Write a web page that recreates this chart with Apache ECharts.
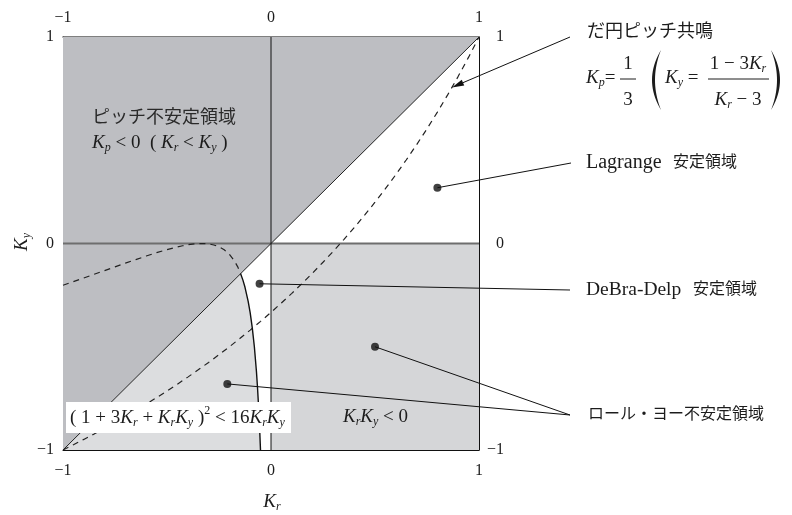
<!DOCTYPE html>
<html>
<head>
<meta charset="utf-8">
<script src="https://cdn.jsdelivr.net/npm/echarts@6/dist/echarts.min.js"></script>
<style>
  html, body { margin: 0; padding: 0; background: #fff; }
  #chart { width: 792px; height: 515px; }
</style>
</head>
<body>
<div id="chart"></div>
<script>
// ---- axis ticks ----
const tickValues = [-1, 0, 1];
const tickLabels = ['−1', '0', '1'];

// ---- elliptic pitch resonance, Kp = 1/3 : Ky = (1 - 3Kr) / (Kr - 3) ----
const resonanceCurve = [
  [-1, -1], [-0.95, -0.9747], [-0.9, -0.9487], [-0.85, -0.9221], [-0.8, -0.8947],
  [-0.75, -0.8667], [-0.7, -0.8378], [-0.65, -0.8082], [-0.6, -0.7778], [-0.55, -0.7465],
  [-0.5, -0.7143], [-0.45, -0.6812], [-0.4, -0.6471], [-0.35, -0.6119], [-0.3, -0.5758],
  [-0.25, -0.5385], [-0.2, -0.5], [-0.15, -0.4603], [-0.1, -0.4194], [-0.05, -0.377],
  [0, -0.3333], [0.05, -0.2881], [0.1, -0.2414], [0.15, -0.193], [0.2, -0.1429],
  [0.25, -0.0909], [0.3, -0.037], [0.35, 0.0189], [0.4, 0.0769], [0.45, 0.1373],
  [0.5, 0.2], [0.55, 0.2653], [0.6, 0.3333], [0.65, 0.4043], [0.7, 0.4783],
  [0.75, 0.5556], [0.8, 0.6364], [0.85, 0.7209], [0.9, 0.8095], [0.95, 0.9024], [1, 1]
];

// ---- boundary (1 + 3Kr + KrKy)^2 = 16KrKy ----
// part outside the DeBra-Delp region (dashed)
const boundaryDashed = [
  [-1, -0.202], [-0.95, -0.1845], [-0.9, -0.1669], [-0.85, -0.149], [-0.8, -0.1311],
  [-0.75, -0.1131], [-0.7, -0.0953], [-0.65, -0.0778], [-0.6, -0.0607], [-0.55, -0.0445],
  [-0.5, -0.0294], [-0.45, -0.0163], [-0.425, -0.0108], [-0.4, -0.0061], [-0.367, -0.0017],
  [-0.35, -0.0004], [-0.333, 0], [-0.315, -0.0006], [-0.3, -0.0021], [-0.275, -0.0071],
  [-0.25, -0.0161], [-0.225, -0.0306], [-0.2, -0.0527], [-0.175, -0.0858], [-0.16, -0.1131],
  [-0.146, -0.146]
];
// part bounding the DeBra-Delp region (solid)
const boundarySolid = [
  [-0.146, -0.146], [-0.135, -0.1774], [-0.125, -0.2122], [-0.11, -0.279], [-0.1, -0.3363],
  [-0.09, -0.4083], [-0.08, -0.5], [-0.07, -0.6201], [-0.065, -0.695], [-0.06, -0.7829],
  [-0.055, -0.8877], [-0.0505, -1]
];

// ---- straight reference lines ----
const zeroKyLine = [[-1, 0], [1, 0]];
const zeroKrLine = [[0, -1], [0, 1]];
const diagonalLine = [[-1, -1], [1, 1]];

// ---- shaded regions ----
const pitchUnstableRegion = [[-1, -1], [1, 1], [-1, 1]];
const rollYawQuadrant = [[0, -1], [1, -1], [1, 0], [0, 0]];
const rollYawLowerLeft = [[-1, -1]].concat(boundarySolid);

// ---- annotation target points ----
const resonancePoint = [0.87, 0.756];
const lagrangePoint = [0.8, 0.27];
const debraPoint = [-0.055, -0.195];
const rollYawPoints = [[0.5, -0.5], [-0.21, -0.68]];

// ---- layout ----
const leaderEnds = [[571, 163], [570, 290], [570, 415]];
const arrowStart = [570, 37];
const SERIF = '"Liberation Serif", "Times New Roman", serif';
const MIXED = '"Liberation Serif", "Noto Sans CJK JP", sans-serif';
const INK = '#1c1c1c';
const TOP_Z = 100;

const measureCtx = document.createElement('canvas').getContext('2d');
function fontOf(size, italic) {
  return (italic ? 'italic ' : '') + size + 'px ' + SERIF;
}
function runWidth(text, size, italic) {
  measureCtx.font = fontOf(size, italic);
  return measureCtx.measureText(text).width;
}
// Lays out a formula made of runs: n = upright, i = italic, s = italic subscript, S = superscript
function mathGroup(runs, x, y, base, align, rotation) {
  let cx = 0;
  const children = [];
  runs.forEach(([text, kind]) => {
    let size = base, italic = false, dy = 0;
    if (kind === 'i') italic = true;
    if (kind === 's') { size = Math.round(base * 0.62); italic = true; dy = base * 0.28; }
    if (kind === 'S') { size = Math.round(base * 0.62); dy = -base * 0.36; }
    children.push({
      type: 'text', x: cx, y: dy, z: TOP_Z,
      style: { text: text, font: fontOf(size, italic), fill: INK, align: 'left', verticalAlign: 'middle' }
    });
    cx += runWidth(text, size, italic);
  });
  const off = align === 'center' ? -cx / 2 : 0;
  children.forEach(c => { c.x += off; });
  return { type: 'group', x: x, y: y, rotation: rotation || 0, z: TOP_Z, children: children };
}
function plainText(text, x, y, size, fill) {
  return {
    type: 'text', x: x, y: y, z: TOP_Z,
    style: { text: text, font: size + 'px ' + MIXED, fill: fill || INK, align: 'left', verticalAlign: 'middle' }
  };
}
// Tall parenthesis drawn as a thin crescent
function parenShape(xTop, outerCtrl, innerCtrl, yTop, yBot) {
  const pts = [];
  const yMid = (yTop + yBot) / 2;
  for (let i = 0; i <= 20; i++) {
    const t = i / 20;
    pts.push([(1 - t) * (1 - t) * xTop + 2 * t * (1 - t) * outerCtrl + t * t * xTop,
              (1 - t) * (1 - t) * yTop + 2 * t * (1 - t) * yMid + t * t * yBot]);
  }
  for (let i = 20; i >= 0; i--) {
    const t = i / 20;
    pts.push([(1 - t) * (1 - t) * xTop + 2 * t * (1 - t) * innerCtrl + t * t * xTop,
              (1 - t) * (1 - t) * yTop + 2 * t * (1 - t) * yMid + t * t * yBot]);
  }
  return { type: 'polygon', z: TOP_Z, shape: { points: pts }, style: { fill: INK } };
}

function regionSeries(points, color) {
  return {
    type: 'custom', silent: true, z: 1, clip: true, animation: false,
    data: [[0, 0]],
    renderItem: (params, api) => ({
      type: 'polygon',
      shape: { points: points.map(p => api.coord(p)) },
      style: { fill: color }
    })
  };
}
function lineSeries(data, color, width, dashed, z) {
  return {
    type: 'line', data: data, symbol: 'none', silent: true, animation: false, z: z,
    lineStyle: { color: color, width: width, type: dashed ? [6, 5] : 'solid' }
  };
}

const axisLabelBase = {
  fontFamily: SERIF, fontSize: 16, color: INK,
  formatter: v => { const k = tickValues.indexOf(v); return k >= 0 ? tickLabels[k] : ''; }
};

const leaderData = [
  [lagrangePoint[0], lagrangePoint[1], 0],
  [debraPoint[0], debraPoint[1], 1],
  [rollYawPoints[0][0], rollYawPoints[0][1], 2],
  [rollYawPoints[1][0], rollYawPoints[1][1], 2]
];

const chart = echarts.init(document.getElementById('chart'), null, { renderer: 'canvas' });
chart.setOption({
  backgroundColor: '#fff',
  animation: false,
  grid: { left: 63, right: 313, top: 37, bottom: 65 },
  xAxis: [
    {
      type: 'value', position: 'bottom', min: -1, max: 1, interval: 1,
      axisLine: { onZero: false, lineStyle: { color: '#111', width: 1 } },
      axisTick: { show: false }, splitLine: { show: false },
      axisLabel: Object.assign({ margin: 13 }, axisLabelBase)
    },
    {
      type: 'value', position: 'top', min: -1, max: 1, interval: 1,
      axisLine: { onZero: false, lineStyle: { color: '#555', width: 1.5 } },
      axisTick: { show: false }, splitLine: { show: false },
      axisLabel: Object.assign({ margin: 11 }, axisLabelBase)
    }
  ],
  yAxis: [
    {
      type: 'value', position: 'left', min: -1, max: 1, interval: 1,
      axisLine: { onZero: false, lineStyle: { color: '#111', width: 1 } },
      axisTick: { show: false }, splitLine: { show: false },
      axisLabel: Object.assign({ margin: 9 }, axisLabelBase)
    },
    {
      type: 'value', position: 'right', min: -1, max: 1, interval: 1,
      axisLine: { onZero: false, lineStyle: { color: '#111', width: 1 } },
      axisTick: { show: false }, splitLine: { show: false },
      axisLabel: Object.assign({ margin: 25, align: 'right' }, axisLabelBase)
    }
  ],
  series: [
    regionSeries(pitchUnstableRegion, '#bdbec2'),
    regionSeries(rollYawQuadrant, '#d5d6d8'),
    regionSeries(rollYawLowerLeft, '#dcdddf'),
    lineSeries(zeroKyLine, '#6e6e6e', 2, false, 3),
    lineSeries(zeroKrLine, '#111', 1, false, 3),
    lineSeries(diagonalLine, '#222', 1, false, 3),
    lineSeries(resonanceCurve, '#222', 1.2, true, 4),
    lineSeries(boundaryDashed, '#222', 1.2, true, 4),
    lineSeries(boundarySolid, '#111', 1.4, false, 4),
    {
      type: 'custom', silent: true, clip: false, z: 6, animation: false,
      data: leaderData,
      renderItem: (params, api) => {
        const p = api.coord([api.value(0), api.value(1)]);
        const e = leaderEnds[api.value(2)];
        return {
          type: 'line',
          shape: { x1: p[0], y1: p[1], x2: e[0], y2: e[1] },
          style: { stroke: '#111', lineWidth: 1 }
        };
      }
    },
    {
      type: 'custom', silent: true, clip: false, z: 6, animation: false,
      data: [resonancePoint],
      renderItem: (params, api) => {
        const tip = api.coord([api.value(0), api.value(1)]);
        const dx = tip[0] - arrowStart[0], dy = tip[1] - arrowStart[1];
        const L = Math.hypot(dx, dy), ux = dx / L, uy = dy / L;
        const len = 12, hw = 3.2;
        const b = [tip[0] - ux * len, tip[1] - uy * len];
        return {
          type: 'group',
          children: [
            { type: 'line', shape: { x1: arrowStart[0], y1: arrowStart[1], x2: b[0], y2: b[1] },
              style: { stroke: '#111', lineWidth: 1 } },
            { type: 'polygon', shape: { points: [tip, [b[0] - uy * hw, b[1] + ux * hw], [b[0] + uy * hw, b[1] - ux * hw]] },
              style: { fill: '#111' } }
          ]
        };
      }
    },
    {
      type: 'scatter', silent: true, z: 7, animation: false,
      symbol: 'circle', symbolSize: 8,
      itemStyle: { color: '#111' },
      data: [lagrangePoint, debraPoint].concat(rollYawPoints)
    }
  ],
  graphic: {
    elements: [
      // region captions
      plainText('ピッチ不安定領域', 92, 118, 18, '#2a2a2a'),
      mathGroup([['K', 'i'], ['p', 's'], [' < 0  ( ', 'n'], ['K', 'i'], ['r', 's'], [' < ', 'n'], ['K', 'i'], ['y', 's'], [' )', 'n']], 92, 143, 19, 'left'),
      mathGroup([['K', 'i'], ['r', 's'], ['K', 'i'], ['y', 's'], [' < 0', 'n']], 343, 417, 19, 'left'),
      { type: 'rect', z: TOP_Z - 1, shape: { x: 66, y: 402, width: 225, height: 31 }, style: { fill: '#fff' } },
      mathGroup([['( 1 + 3', 'n'], ['K', 'i'], ['r', 's'], [' + ', 'n'], ['K', 'i'], ['r', 's'], ['K', 'i'], ['y', 's'],
                 [' )', 'n'], ['2', 'S'], [' < 16', 'n'], ['K', 'i'], ['r', 's'], ['K', 'i'], ['y', 's']], 70, 418, 19, 'left'),
      // axis names
      mathGroup([['K', 'i'], ['r', 's']], 272, 502, 19, 'center'),
      mathGroup([['K', 'i'], ['y', 's']], 22, 242, 19, 'center', Math.PI / 2),
      // resonance caption and formula
      plainText('だ円ピッチ共鳴', 587, 32, 18),
      mathGroup([['K', 'i'], ['p', 's'], ['=', 'n']], 586, 78, 19, 'left'),
      mathGroup([['1', 'n']], 628, 64, 19, 'center'),
      { type: 'line', z: TOP_Z, shape: { x1: 620, y1: 79, x2: 636, y2: 79 }, style: { stroke: INK, lineWidth: 1 } },
      mathGroup([['3', 'n']], 628, 100, 19, 'center'),
      parenShape(661, 643, 649, 50, 110),
      mathGroup([['K', 'i'], ['y', 's'], [' =', 'n']], 665, 78, 19, 'left'),
      mathGroup([['1 − 3', 'n'], ['K', 'i'], ['r', 's']], 738, 64, 19, 'center'),
      { type: 'line', z: TOP_Z, shape: { x1: 708, y1: 79, x2: 769, y2: 79 }, style: { stroke: INK, lineWidth: 1 } },
      mathGroup([['K', 'i'], ['r', 's'], [' − 3', 'n']], 738, 100, 19, 'center'),
      parenShape(771, 789, 783, 50, 110),
      // stability region captions
      plainText('Lagrange', 586, 163, 20),
      plainText('安定領域', 673, 163, 16),
      plainText('DeBra-Delp', 586, 290, 19.5),
      plainText('安定領域', 693, 290, 16),
      plainText('ロール・ヨー不安定領域', 588, 415, 16)
    ]
  }
});
</script>
</body>
</html>
